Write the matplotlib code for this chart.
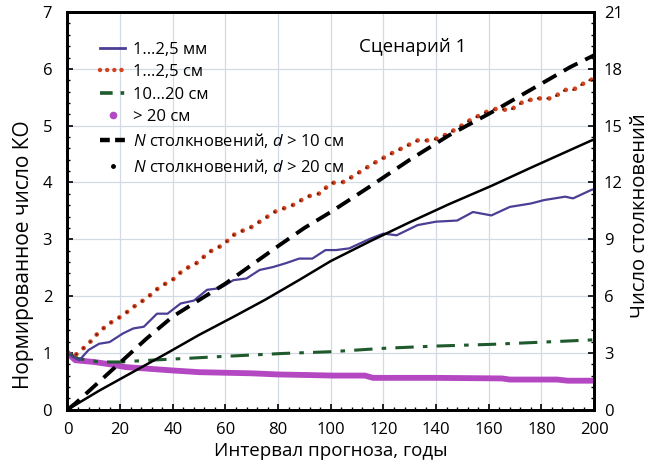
import matplotlib
matplotlib.use('Agg')
import matplotlib.pyplot as plt
from matplotlib.lines import Line2D
from matplotlib.ticker import MultipleLocator

plt.rcParams['font.family'] = ['Open Sans', 'DejaVu Sans']
plt.rcParams['mathtext.fontset'] = 'custom'
plt.rcParams['mathtext.it'] = 'Open Sans:italic'
plt.rcParams['mathtext.rm'] = 'Open Sans'

# 1...2,5 mm
years_mm = [0, 2, 4.5, 8, 12, 16, 21, 25, 29, 34, 38, 43, 48, 53, 58, 63, 68, 73, 78, 83,
            88, 93, 98, 102, 107, 115, 120, 125, 133, 140, 148, 154, 161, 168, 176, 181,
            189, 192, 199, 200]
norm_mm = [1.0, 0.93, 0.87, 1.05, 1.16, 1.19, 1.34, 1.43, 1.46, 1.69, 1.69, 1.87, 1.92,
           2.11, 2.14, 2.28, 2.31, 2.46, 2.51, 2.58, 2.66, 2.66, 2.81, 2.81, 2.84, 3.01,
           3.10, 3.07, 3.25, 3.31, 3.33, 3.48, 3.42, 3.57, 3.63, 3.69, 3.75, 3.72, 3.87, 3.88]

# 1...2,5 cm
years_cm = [0, 3, 8, 12, 16, 21, 26, 30, 35, 40, 44, 49, 54, 59, 64, 69, 74, 79, 86, 91,
            96, 100, 105, 116, 123, 133, 138, 142, 148, 153, 159, 163, 168, 173, 178, 184,
            189, 192, 198, 200]
norm_cm = [1.0, 0.96, 1.16, 1.37, 1.52, 1.66, 1.84, 1.96, 2.16, 2.29, 2.46, 2.58, 2.78,
           2.90, 3.11, 3.19, 3.34, 3.49, 3.61, 3.75, 3.81, 3.99, 4.01, 4.33, 4.51, 4.74,
           4.74, 4.80, 4.95, 5.10, 5.24, 5.30, 5.27, 5.42, 5.48, 5.48, 5.63, 5.63, 5.80, 5.82]

# 10...20 cm
years_10_20 = [0, 4, 12, 20, 31, 44, 56, 69, 82, 100, 120, 140, 161, 181, 200]
norm_10_20 = [1.0, 0.90, 0.84, 0.84, 0.87, 0.90, 0.93, 0.96, 0.99, 1.02, 1.08, 1.12,
              1.15, 1.19, 1.23]

# > 20 cm
years_20 = [0, 3, 10, 16, 22, 31, 40, 50, 60, 70, 80, 91, 101, 113, 116, 140, 165, 168,
            186, 190, 200]
norm_20 = [1.0, 0.87, 0.84, 0.80, 0.75, 0.72, 0.69, 0.66, 0.65, 0.64, 0.62, 0.61, 0.60,
           0.60, 0.56, 0.56, 0.55, 0.53, 0.53, 0.51, 0.51]

# collisions (right axis)
years_c10 = [0, 3, 12, 21, 30, 40, 50, 60, 70, 80, 90, 100, 115, 130, 145, 161, 176, 191, 200]
coll_10 = [0, 0.33, 1.47, 2.61, 3.75, 4.92, 5.79, 6.66, 7.65, 8.64, 9.6, 10.44, 11.8,
           13.2, 14.5, 15.7, 16.9, 18.1, 18.72]

years_c20 = [0, 12, 25, 38, 50, 63, 75, 88, 100, 115, 130, 145, 161, 176, 199, 200]
coll_20 = [0, 1.0, 2.0, 3.0, 3.95, 4.9, 5.8, 6.85, 7.85, 8.9, 9.9, 10.86, 11.82, 12.78,
           14.22, 14.25]

labels = ['1…2,5 мм', '1…2,5 см', '10…20 см', '> 20 см',
          '$N$ столкновений, $d$ > 10 см', '$N$ столкновений, $d$ > 20 см']

c_mm = '#4a3f95'
c_cm = '#d2431f'
c_green = '#1e5a2c'
c_purple = '#b348c2'

fig = plt.figure(figsize=(6.55, 4.65), dpi=100)
ax = fig.add_axes([0.103, 0.119, 0.804, 0.855])
ax2 = ax.twinx()

ax.plot(years_20, norm_20, color=c_purple, lw=4.2, solid_capstyle='round', zorder=3)
ax.plot(years_10_20, norm_10_20, color=c_green, lw=2.2, dashes=(6, 3, 1.5, 3), zorder=4)
ax.plot(years_mm, norm_mm, color=c_mm, lw=1.6, zorder=5)
ax.plot(years_cm, norm_cm, color=c_cm, lw=3.4, dashes=(0.01, 2.0), dash_capstyle='round', zorder=6)
ax.plot(years_cm, norm_cm, color='#5a1408', lw=1.5, dashes=(0.01, 4.53), dash_capstyle='round', zorder=7)

ax2.plot(years_c10, coll_10, color='black', lw=2.8, dashes=(4, 2.2), zorder=4)
ax2.plot(years_c20, coll_20, color='black', lw=1.8, zorder=4)

ax.set_xlim(0, 200)
ax.set_ylim(0, 7)
ax2.set_ylim(0, 21)
ax.xaxis.set_major_locator(MultipleLocator(20))
ax.xaxis.set_minor_locator(MultipleLocator(4))
ax.yaxis.set_major_locator(MultipleLocator(1))
ax.yaxis.set_minor_locator(MultipleLocator(0.2))
ax2.yaxis.set_major_locator(MultipleLocator(3))
ax2.yaxis.set_minor_locator(MultipleLocator(0.6))

ax.grid(True, which='major', color='#d3dae4', lw=0.9)
ax.set_axisbelow(True)

for a in (ax, ax2):
    for s in a.spines.values():
        s.set_linewidth(2.0)
    a.tick_params(which='both', direction='in', labelsize=12)
    a.tick_params(which='major', length=4, width=1.2)
    a.tick_params(which='minor', length=2.5, width=1.0)
ax.tick_params(axis='y', pad=11)
ax.tick_params(axis='x', pad=9)
ax2.tick_params(axis='y', pad=7)

ax.set_xlabel('Интервал прогноза, годы', fontsize=13.5, labelpad=3)
ax.set_ylabel('Нормированное число КО', fontsize=15)
ax.yaxis.set_label_coords(-0.064, 0.39)
ax2.set_ylabel('Число столкновений', fontsize=14.5)
ax2.yaxis.set_label_coords(1.068, 0.487)

ax.text(0.655, 0.912, 'Сценарий 1', transform=ax.transAxes, fontsize=13.5,
        ha='center', va='center')

handles = [
    Line2D([], [], color=c_mm, lw=2.0),
    Line2D([], [], color=c_cm, lw=3.2, dashes=(0.01, 1.6), dash_capstyle='round'),
    Line2D([], [], color=c_green, lw=2.6, dashes=(3.5, 2.2, 1, 2.2)),
    Line2D([], [], color=c_purple, lw=0, marker='o', markersize=4.5),
    Line2D([], [], color='black', lw=3.2, dashes=(2.2, 1.2)),
    Line2D([], [], color='black', lw=0, marker='o', markersize=2.5),
]
ax.legend(handles, labels, loc='upper left', bbox_to_anchor=(0.062, 0.925), frameon=False,
          fontsize=12, handlelength=1.5, handletextpad=0.5, labelspacing=0.38,
          borderaxespad=0, borderpad=0)

fig.savefig('out.png', dpi=100)
